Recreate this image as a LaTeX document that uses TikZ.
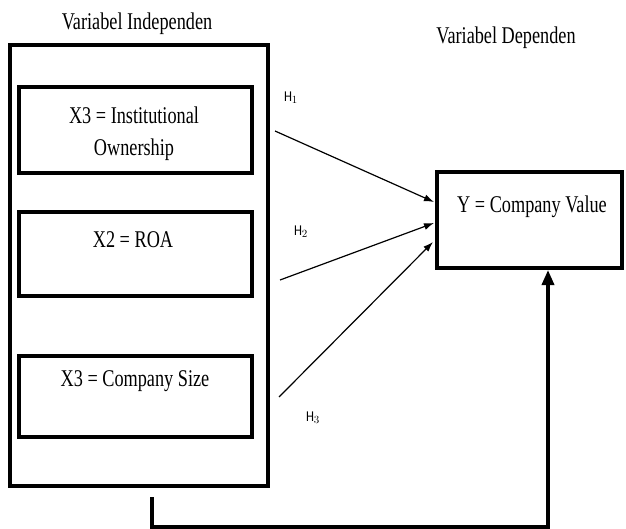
\documentclass[tikz,border=0pt]{standalone}
\usepackage{fontspec}
\setmainfont{Liberation Serif}[FakeStretch=0.76]
\newfontfamily\hfont{Carlito}[FakeStretch=0.85]
\usetikzlibrary{arrows.meta,calc}
\begin{document}
\begin{tikzpicture}[x=1pt,y=-1pt,
  bigbox/.style={draw,line width=4pt,minimum width=258pt,minimum height=441pt,inner sep=0pt},
  varbox/.style={draw,line width=3.5pt,minimum width=233pt,inner sep=0pt},
  ybox/.style={draw,line width=4pt,minimum width=185pt,minimum height=96pt,inner sep=0pt},
  lbl/.style={font=\fontsize{24}{28}\selectfont,inner sep=0pt},
  hyp/.style={font=\hfont\fontsize{15}{17}\selectfont,inner sep=0pt},
  hline/.style={line width=1.2pt,-{Latex[length=10pt,width=7pt]}},
  fbline/.style={line width=3.5pt,-{Triangle[length=15pt,width=12pt]}}
]
\useasboundingbox (0,0) rectangle (626,529);
\node[bigbox] (outer) at (139,265.5) {};
\node[varbox,minimum height=86pt] (x1) at (135.5,130) {};
\node[varbox,minimum height=84pt] (x2) at (135.5,254) {};
\node[varbox,minimum height=81pt] (x3) at (135.5,396.5) {};
\node[ybox] (y) at (529.5,220) {};

\node[lbl] (tind) at (137,24) {Variabel Independen};
\node[lbl] (tdep) at (506,38) {Variabel Dependen};
\node[lbl] (t1a) at (134,115) {X3 = Institutional};
\node[lbl] (t1b) at (134,150) {Ownership};
\node[lbl] (t2) at (133,240) {X2 = ROA};
\node[lbl] (t3) at (135,381) {X3 = Company Size};
\node[lbl] (ty) at (532,207) {Y = Company Value};

\node[hyp] (h1) at (291,98) {H$_1$};
\node[hyp] (h2) at (301,232) {H$_2$};
\node[hyp] (h3) at (313,418) {H$_3$};

\coordinate (s1) at (275,131);
\coordinate (s2) at (280,280);
\coordinate (s3) at (279,397);
\coordinate (fb) at (152,497);

\draw[hline] (s1) -- ([yshift=18pt,xshift=-1pt]y.west);
\draw[hline] (s2) -- ([yshift=-3pt,xshift=-1pt]y.west);
\draw[hline] (s3) -- ([yshift=-22pt,xshift=-2pt]y.west);
\draw[fbline] (fb) -- (152,527) -| ([xshift=18.5pt]y.south);
\end{tikzpicture}
\end{document}
